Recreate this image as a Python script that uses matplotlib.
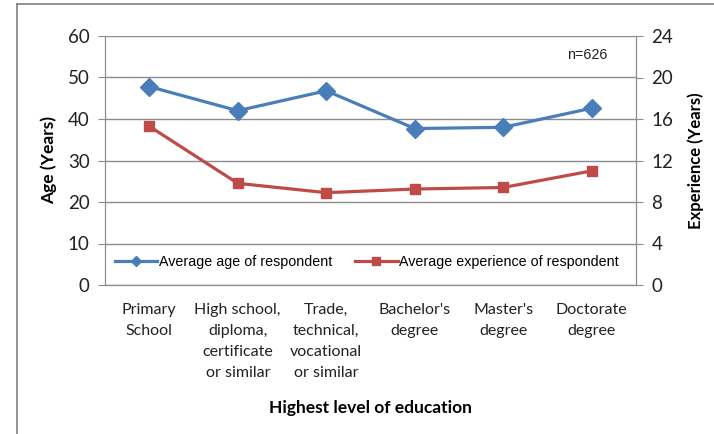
import matplotlib
matplotlib.use("Agg")
import matplotlib.pyplot as plt
from matplotlib.lines import Line2D

categories = ["Primary\nSchool", "High school,\ndiploma,\ncertificate\nor similar",
              "Trade,\ntechnical,\nvocational\nor similar", "Bachelor's\ndegree",
              "Master's\ndegree", "Doctorate\ndegree"]
avg_age = [47.8, 42.0, 46.8, 37.7, 38.0, 42.6]
avg_experience = [15.3, 9.8, 8.9, 9.25, 9.4, 11.0]
age_ticks = [0, 10, 20, 30, 40, 50, 60]
exp_ticks = [0, 4, 8, 12, 16, 20, 24]

BLUE = "#4A7EBB"
RED = "#BE4B48"
GRID = "#8c8c8c"
TICKFONT = "Lato"

W, H = 714, 434
fig = plt.figure(figsize=(W / 100, H / 100), dpi=100)
fig.patch.set_facecolor("white")

# chart border (left and top visible only)
fig.add_artist(Line2D([17 / W, 17 / W], [0, 1 - 4 / H], color="#7f7f7f", lw=1.2))
fig.add_artist(Line2D([17 / W, 1], [1 - 4 / H, 1 - 4 / H], color="#7f7f7f", lw=1.2))

ax = fig.add_axes([105 / W, 1 - 285 / H, (636 - 105) / W, (285 - 36) / H])
ax2 = ax.twinx()

x = list(range(len(categories)))
l1, = ax.plot(x, avg_age, color=BLUE, lw=2.3, marker="D", markersize=9,
              label="Average age of respondent", zorder=3)
l2, = ax2.plot(x, avg_experience, color=RED, lw=2.3, marker="s", markersize=7.5,
               label="Average experience of respondent", zorder=3)

ax.set_xlim(-0.5, len(categories) - 0.5)
ax.set_ylim(0, 60)
ax2.set_ylim(0, 24)
ax.set_yticks(age_ticks)
ax2.set_yticks(exp_ticks)
ax.yaxis.grid(True, color=GRID, lw=1)
ax.set_axisbelow(True)

ax.set_xticks(x)
ax.set_xticklabels(categories, fontsize=11.5, family=TICKFONT, color="#222222",
                   linespacing=1.62)
ax.tick_params(axis="x", length=0, pad=13)
for a in (ax, ax2):
    for s in a.spines.values():
        s.set_color(GRID)
    a.spines["top"].set_visible(False)
ax.tick_params(axis="y", length=5, color=GRID, pad=6, labelsize=13.5, labelcolor="#222222")
ax2.tick_params(axis="y", length=5, color=GRID, pad=6, labelsize=13.5, labelcolor="#222222")
for lab in ax.get_yticklabels() + ax2.get_yticklabels():
    lab.set_family(TICKFONT)

ax.set_ylabel("Age (Years)", fontsize=12.5, fontweight="bold", family=TICKFONT, labelpad=8)
ax2.set_ylabel("Experience (Years)", fontsize=12, fontweight="bold", family=TICKFONT, labelpad=10)
ax.set_xlabel("Highest level of education", fontsize=12.5, fontweight="bold", family=TICKFONT, labelpad=15)

leg_h1 = Line2D([], [], color=BLUE, lw=2.3, marker="D", markersize=5)
leg_h2 = Line2D([], [], color=RED, lw=2.3, marker="s", markersize=6)
ax.legend([leg_h1, leg_h2], [l1.get_label(), l2.get_label()], loc="center",
          bbox_to_anchor=(0.493, 0.092), ncol=2, frameon=False, handlelength=3.0,
          handletextpad=0.1, columnspacing=1.6, prop={"family": "Liberation Sans", "size": 10.3})

ax.text(0.908, 0.925, "n=626", transform=ax.transAxes, ha="center", va="center",
        fontsize=10.3, family="Liberation Sans", color="#222222")

fig.savefig("out.png", dpi=100, facecolor="white")
